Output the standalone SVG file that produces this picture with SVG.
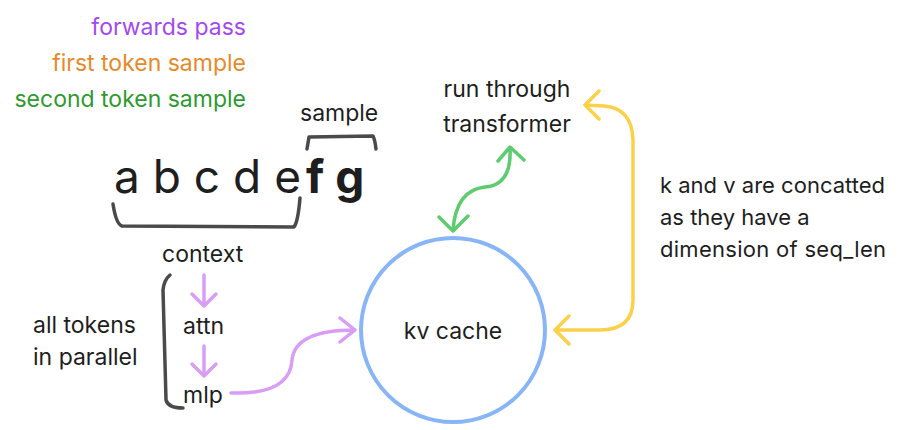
<svg xmlns="http://www.w3.org/2000/svg" width="904" height="430" viewBox="0 0 904 430">
<style>
text{font-family:Inter,"Noto Sans",sans-serif;fill:#1e1e1e;font-size:23px}
.big{font-size:46px}
.n{font-size:22px}
.c{fill:none;stroke-width:3.5;stroke-linecap:round;stroke-linejoin:round}
.g{stroke:#4a4a4a}.p{stroke:#da9df5}.y{stroke:#fcd149}.gr{stroke:#5fcb70}
</style>
<rect width="904" height="430" fill="#fff"/>
<g id="legend">
<text x="246" y="35" text-anchor="end" style="fill:#a349f0">forwards pass</text>
<text x="246" y="71" text-anchor="end" style="fill:#e58a28">first token sample</text>
<text x="246" y="107" text-anchor="end" style="fill:#2f9a2f">second token sample</text>
</g>
<g id="tokens">
<text x="114" y="193" class="big">a b c d e</text>
<text x="306" y="193" class="big" font-weight="bold">f g</text>
<text x="300" y="121">sample</text>
<text x="162" y="262">context</text>
</g>
<g id="brackets">
<path class="c g" d="M113 204 Q116 224 122 226 L294 227 Q298 222 300 198"/>
<path class="c g" d="M307 149 L309 137 L373 136 Q375 140 376 149"/>
<path class="c g" d="M170 275 Q164 280 163 290 L166 400 Q168 408 183 408"/>
</g>
<g id="stack">
<text x="183" y="334">attn</text>
<text x="183" y="403">mlp</text>
<text x="33" y="333">all tokens</text>
<text x="33" y="365">in parallel</text>
</g>
<g id="kvcache">
<circle cx="453" cy="330" r="92" fill="none" stroke="#87b5f5" stroke-width="4"/>
<text x="453" y="339" text-anchor="middle">kv cache</text>
</g>
<g id="transformer">
<text x="507" y="97" text-anchor="middle">run through</text>
<text x="507" y="132" text-anchor="middle">transformer</text>
</g>
<g id="note">
<text x="660" y="193" class="n" textLength="225">k and v are concatted</text>
<text x="660" y="225" class="n">as they have a</text>
<text x="660" y="257" class="n" textLength="226">dimension of seq_len</text>
</g>
<g id="connectors">
<path class="c p" d="M204 275 V305 M192 294 L204 306 L216 294"/>
<path class="c p" d="M204 346 V375 M192 364 L204 376 L216 364"/>
<path class="c p" d="M231 393 Q290 395 292 360 Q295 330 355 330 M340 318 L355 330 L340 342"/>
<path class="c gr" d="M510 148 Q512 185 485 187 Q456 190 453 230 M498 161 L510 147 L524 160 M439 217 L453 231 L468 216"/>
<path class="c y" d="M585 105 L604 106 Q632 108 633 140 L633 300 Q633 330 600 330 L555 330 M599 91 L585 105 L599 119 M569 316 L555 330 L569 344"/>
</g>
</svg>
